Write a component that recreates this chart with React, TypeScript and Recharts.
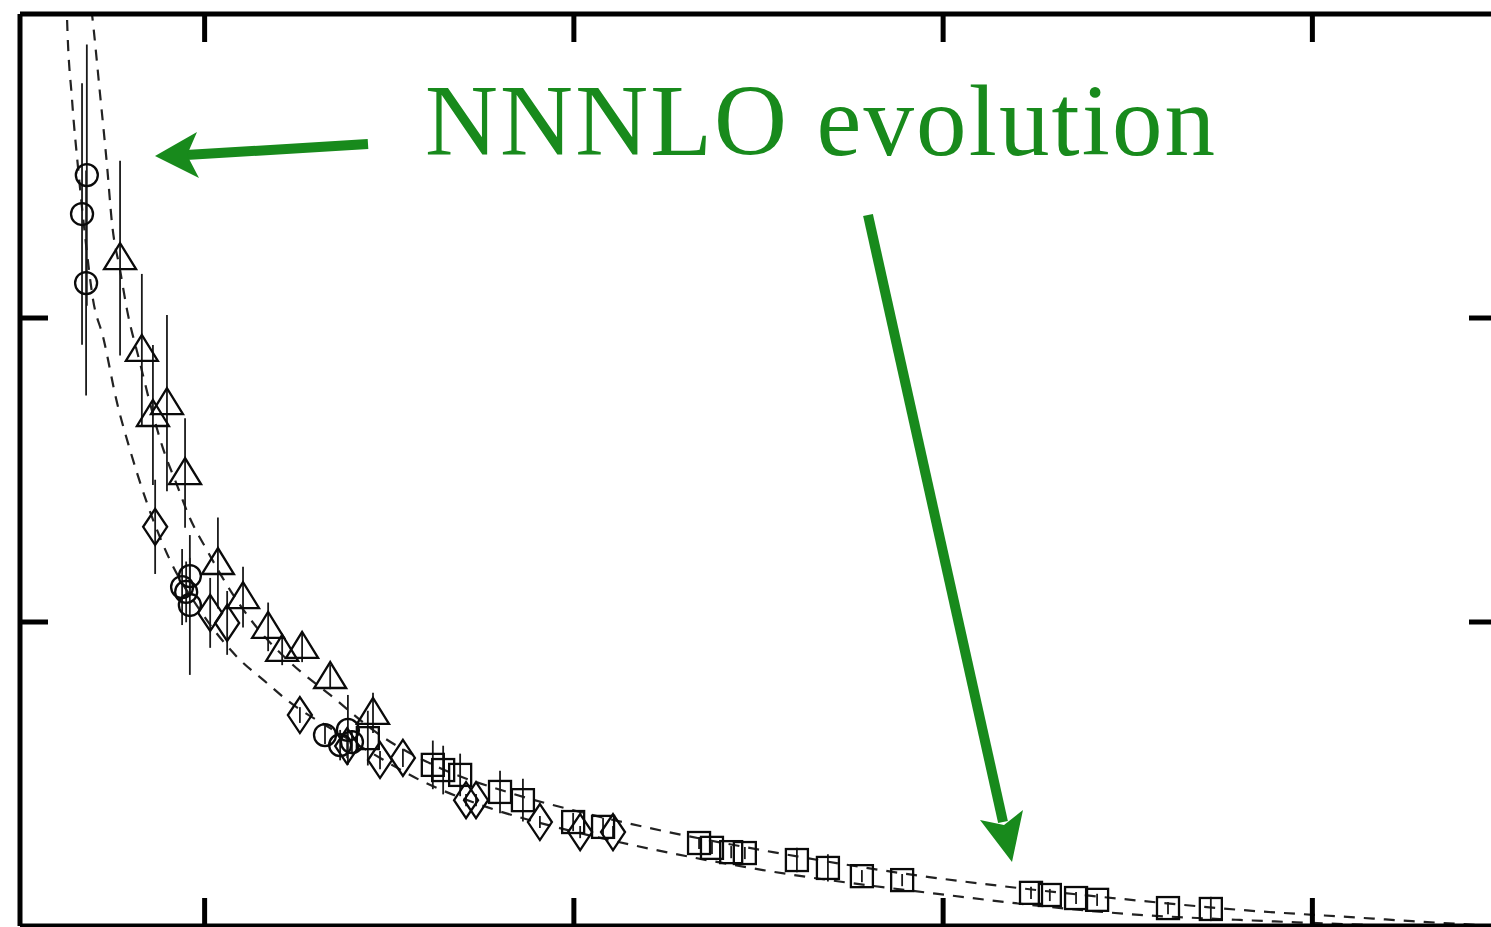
import React from 'react';
import { ComposedChart, XAxis, YAxis, Scatter, Line, ErrorBar } from 'recharts';

// ---- axis ticks (no labels are printed in the figure) ----
const xTicks = [1, 2, 3, 4];
const yTicks = [1, 2];
const xDomain = [0.5, 4.5];
const yDomain = [0, 3];

// ---- data sets (x, y, symmetric error e) ----
const circles = [
  { x: 0.681, y: 2.47, e: 0.43 },
  { x: 0.668, y: 2.342, e: 0.43 },
  { x: 0.679, y: 2.115, e: 0.37 },
  { x: 0.96, y: 1.151, e: 0.06 },
  { x: 0.939, y: 1.115, e: 0.125 },
  { x: 0.96, y: 1.056, e: 0.23 },
  { x: 0.95, y: 1.099, e: 0.1 },
  { x: 1.326, y: 0.628, e: 0.03 },
  { x: 1.367, y: 0.595, e: 0.05 },
  { x: 1.388, y: 0.645, e: 0.115 },
  { x: 1.399, y: 0.605, e: 0.04 },
];

const triangles = [
  { x: 0.771, y: 2.197, e: 0.32 },
  { x: 0.83, y: 1.895, e: 0.25 },
  { x: 0.86, y: 1.681, e: 0.23 },
  { x: 0.898, y: 1.72, e: 0.29 },
  { x: 0.947, y: 1.49, e: 0.18 },
  { x: 1.036, y: 1.194, e: 0.15 },
  { x: 1.104, y: 1.082, e: 0.1 },
  { x: 1.172, y: 0.984, e: 0.08 },
  { x: 1.21, y: 0.908, e: 0.05 },
  { x: 1.264, y: 0.918, e: 0.05 },
  { x: 1.34, y: 0.819, e: 0.04 },
  { x: 1.456, y: 0.701, e: 0.066 },
];

const diamonds = [
  { x: 0.866, y: 1.313, e: 0.155 },
  { x: 1.015, y: 1.03, e: 0.115 },
  { x: 1.061, y: 0.997, e: 0.105 },
  { x: 1.258, y: 0.694, e: 0.026 },
  { x: 1.386, y: 0.592, e: 0.04 },
  { x: 1.475, y: 0.546, e: 0.03 },
  { x: 1.537, y: 0.553, e: 0.03 },
  { x: 1.708, y: 0.414, e: 0.02 },
  { x: 1.735, y: 0.414, e: 0.02 },
  { x: 1.908, y: 0.342, e: 0.02 },
  { x: 2.017, y: 0.309, e: 0.02 },
  { x: 2.106, y: 0.309, e: 0.02 },
];

const squares = [
  { x: 1.442, y: 0.618, e: 0.09 },
  { x: 1.618, y: 0.53, e: 0.08 },
  { x: 1.646, y: 0.513, e: 0.08 },
  { x: 1.692, y: 0.497, e: 0.07 },
  { x: 1.8, y: 0.441, e: 0.07 },
  { x: 1.862, y: 0.414, e: 0.07 },
  { x: 1.998, y: 0.342, e: 0.03 },
  { x: 2.079, y: 0.326, e: 0.03 },
  { x: 2.339, y: 0.273, e: 0.02 },
  { x: 2.374, y: 0.257, e: 0.02 },
  { x: 2.426, y: 0.243, e: 0.02 },
  { x: 2.463, y: 0.24, e: 0.02 },
  { x: 2.604, y: 0.217, e: 0.04 },
  { x: 2.688, y: 0.191, e: 0.045 },
  { x: 2.78, y: 0.164, e: 0.02 },
  { x: 2.889, y: 0.151, e: 0.02 },
  { x: 3.238, y: 0.109, e: 0.02 },
  { x: 3.289, y: 0.102, e: 0.02 },
  { x: 3.36, y: 0.092, e: 0.02 },
  { x: 3.417, y: 0.086, e: 0.02 },
  { x: 3.609, y: 0.059, e: 0.02 },
  { x: 3.725, y: 0.056, e: 0.04 },
];

// ---- dashed evolution curves ----
const upperCurve = [
  { x: 0.687, y: 3.079 },
  { x: 0.695, y: 3.0 },
  { x: 0.717, y: 2.734 },
  { x: 0.736, y: 2.497 },
  { x: 0.749, y: 2.313 },
  { x: 0.771, y: 2.158 },
  { x: 0.79, y: 2.026 },
  { x: 0.825, y: 1.852 },
  { x: 0.852, y: 1.72 },
  { x: 0.887, y: 1.572 },
  { x: 0.925, y: 1.451 },
  { x: 0.96, y: 1.342 },
  { x: 1.006, y: 1.237 },
  { x: 1.069, y: 1.105 },
  { x: 1.136, y: 0.99 },
  { x: 1.231, y: 0.868 },
  { x: 1.34, y: 0.76 },
  { x: 1.475, y: 0.628 },
  { x: 1.637, y: 0.52 },
  { x: 1.827, y: 0.438 },
  { x: 2.017, y: 0.375 },
  { x: 2.206, y: 0.322 },
  { x: 2.539, y: 0.243 },
  { x: 2.962, y: 0.161 },
  { x: 3.154, y: 0.132 },
  { x: 3.484, y: 0.089 },
  { x: 3.847, y: 0.049 },
  { x: 4.094, y: 0.03 },
  { x: 4.27, y: 0.016 },
  { x: 4.5, y: 0.0 },
];

const lowerCurve = [
  { x: 0.625, y: 3.112 },
  { x: 0.627, y: 3.0 },
  { x: 0.641, y: 2.717 },
  { x: 0.657, y: 2.497 },
  { x: 0.676, y: 2.273 },
  { x: 0.698, y: 2.059 },
  { x: 0.725, y: 1.938 },
  { x: 0.763, y: 1.72 },
  { x: 0.798, y: 1.566 },
  { x: 0.844, y: 1.391 },
  { x: 0.906, y: 1.204 },
  { x: 0.987, y: 1.039 },
  { x: 1.088, y: 0.885 },
  { x: 1.169, y: 0.799 },
  { x: 1.223, y: 0.743 },
  { x: 1.34, y: 0.651 },
  { x: 1.461, y: 0.563 },
  { x: 1.583, y: 0.48 },
  { x: 1.765, y: 0.391 },
  { x: 1.962, y: 0.322 },
  { x: 2.16, y: 0.266 },
  { x: 2.512, y: 0.184 },
  { x: 2.962, y: 0.109 },
  { x: 3.541, y: 0.036 },
  { x: 3.804, y: 0.02 },
  { x: 4.237, y: 0.0 },
];

const annotation = 'NNNLO evolution';

// ---- marker shapes ----
const MK = '#0a0a0a';
const MW = 2.3;
const CircleShape = (p: any) => (
  <circle cx={p.cx} cy={p.cy} r={11} fill="none" stroke={MK} strokeWidth={MW} />
);
const TriangleShape = (p: any) => (
  <polygon
    points={`${p.cx},${p.cy - 15} ${p.cx - 16},${p.cy + 11} ${p.cx + 16},${p.cy + 11}`}
    fill="none"
    stroke={MK}
    strokeWidth={MW}
  />
);
const DiamondShape = (p: any) => (
  <polygon
    points={`${p.cx},${p.cy - 18} ${p.cx + 12},${p.cy} ${p.cx},${p.cy + 18} ${p.cx - 12},${p.cy}`}
    fill="none"
    stroke={MK}
    strokeWidth={MW}
  />
);
const SquareShape = (p: any) => (
  <rect x={p.cx - 11} y={p.cy - 11} width={22} height={22} fill="none" stroke={MK} strokeWidth={MW} />
);

const GREEN = '#188a1c';
const noLabel = () => '';

export default function App() {
  const axisLine = { stroke: '#000', strokeWidth: 5 };
  const tickLine = { stroke: '#000', strokeWidth: 5 };
  const tickStyle = { fontSize: 1, fill: 'none' };
  const errProps = { direction: 'y' as const, width: 0, stroke: '#1a1a1a', strokeWidth: 1.8 };
  const dashProps = {
    type: 'monotone' as const,
    stroke: '#222',
    strokeWidth: 2.2,
    strokeDasharray: '11 9',
    dot: false,
    activeDot: false,
    isAnimationActive: false,
  };
  return (
    <div
      style={{
        position: 'fixed',
        left: 0,
        top: 0,
        width: 1491,
        height: 927,
        overflow: 'hidden',
        background: '#fff',
      }}
    >
      <ComposedChart
        width={1530}
        height={960}
        margin={{ top: 14, left: 20, right: 33, bottom: 34 }}
        style={{ position: 'absolute', left: 0, top: 0 }}
      >
        <XAxis
          xAxisId="bottom"
          dataKey="x"
          type="number"
          domain={xDomain}
          ticks={xTicks}
          allowDataOverflow
          orientation="bottom"
          mirror
          height={1}
          tick={tickStyle}
          tickFormatter={noLabel}
          tickSize={28}
          axisLine={axisLine}
          tickLine={tickLine}
        />
        <XAxis
          xAxisId="top"
          dataKey="x"
          type="number"
          domain={xDomain}
          ticks={xTicks}
          allowDataOverflow
          orientation="top"
          mirror
          height={1}
          tick={tickStyle}
          tickFormatter={noLabel}
          tickSize={28}
          axisLine={axisLine}
          tickLine={tickLine}
        />
        <YAxis
          yAxisId="left"
          dataKey="y"
          type="number"
          domain={yDomain}
          ticks={yTicks}
          allowDataOverflow
          orientation="left"
          mirror
          width={1}
          tick={tickStyle}
          tickFormatter={noLabel}
          tickSize={28}
          axisLine={axisLine}
          tickLine={tickLine}
        />
        <YAxis
          yAxisId="right"
          dataKey="y"
          type="number"
          domain={yDomain}
          ticks={yTicks}
          allowDataOverflow
          orientation="right"
          mirror
          width={1}
          tick={tickStyle}
          tickFormatter={noLabel}
          tickSize={28}
          axisLine={axisLine}
          tickLine={tickLine}
        />
        <Line xAxisId="bottom" yAxisId="left" data={upperCurve} dataKey="y" {...dashProps} />
        <Line xAxisId="bottom" yAxisId="left" data={lowerCurve} dataKey="y" {...dashProps} />
        <Scatter xAxisId="bottom" yAxisId="left" data={circles} shape={CircleShape} isAnimationActive={false}>
          <ErrorBar dataKey="e" {...errProps} />
        </Scatter>
        <Scatter xAxisId="bottom" yAxisId="left" data={triangles} shape={TriangleShape} isAnimationActive={false}>
          <ErrorBar dataKey="e" {...errProps} />
        </Scatter>
        <Scatter xAxisId="bottom" yAxisId="left" data={diamonds} shape={DiamondShape} isAnimationActive={false}>
          <ErrorBar dataKey="e" {...errProps} />
        </Scatter>
        <Scatter xAxisId="bottom" yAxisId="left" data={squares} shape={SquareShape} isAnimationActive={false}>
          <ErrorBar dataKey="e" {...errProps} />
        </Scatter>
      </ComposedChart>
      <svg
        width={1491}
        height={927}
        style={{ position: 'absolute', left: 0, top: 0, pointerEvents: 'none' }}
      >
        <text
          x={425}
          y={155}
          fill={GREEN}
          fontFamily="'Liberation Serif', 'DejaVu Serif', serif"
          fontSize={101}
          textLength={790}
          lengthAdjust="spacing"
        >
          {annotation}
        </text>
        {/* left arrow */}
        <line x1={368} y1={144} x2={186} y2={155} stroke={GREEN} strokeWidth={10} />
        <polygon points="155,156 197,132 187,155 199,178" fill={GREEN} />
        {/* down arrow */}
        <line x1={868} y1={215} x2={1003} y2={822} stroke={GREEN} strokeWidth={10} />
        <polygon points="1012,862 980,820 1004,825 1023,810" fill={GREEN} />
      </svg>
    </div>
  );
}
